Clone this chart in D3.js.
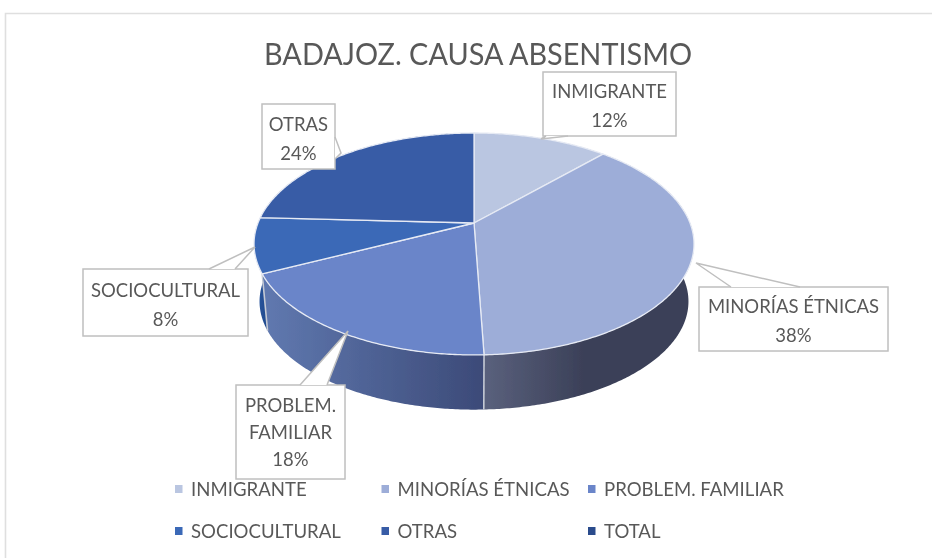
<!DOCTYPE html>
<html><head><meta charset="utf-8">
<script src="https://cdn.jsdelivr.net/npm/d3@7"></script>
<style>html,body{margin:0;padding:0;background:#fff}svg{display:block}text{font-family:Lato,"Open Sans",sans-serif;fill:#595959}</style>
</head><body><div id="c"></div>
<script>
const title = "BADAJOZ. CAUSA ABSENTISMO";
const categories = ["INMIGRANTE","MINORÍAS ÉTNICAS","PROBLEM. FAMILIAR","SOCIOCULTURAL","OTRAS"];
const values = [11.9,37.5,18.4,8.0,24.2];
const calloutNames = ["INMIGRANTE","MINORÍAS ÉTNICAS","PROBLEM.|FAMILIAR","SOCIOCULTURAL","OTRAS"];
const topColors = ["#bac6e1","#9dadd8","#6a85c9","#3a69b7","#375ca6"];
const sideLeft = ["#bac6e1","#5a617d","#6079b0","#2f5aa5","#2f5aa5"];
const sideRight = ["#9aa6c4","#3b4058","#3c4a78","#1f4a8c","#1f4a8c"];
const legendNames = ["INMIGRANTE","MINORÍAS ÉTNICAS","PROBLEM. FAMILIAR","SOCIOCULTURAL","OTRAS","TOTAL"];
const legendColors = ["#bac6e1","#9dadd8","#6a85c9","#3a69b7","#375ca6","#2b4c8c"];
// callout boxes: [x,y,w,h], pointer tip and pointer base
const boxes = [[543,72,133,64],[699,287,189,64],[236,385,109,94],[83,269,165,67],[262,104,73,65]];
const tips = [[[541,139],[546,136],[568,136]],[[696,263],[731,287],[800,287]],[[348,331],[300,385],[327,385]],[[255,247],[209,269],[235,269]],[[341,153],[335,137],[335,159]]];

const W=932,H=558;
const svg=d3.select("#c").append("svg").attr("width",W).attr("height",H);
const defs=svg.append("defs");
defs.append("filter").attr("id","soft").attr("x",0).attr("y",0).attr("width",1).attr("height",1)
  .attr("filterUnits","objectBoundingBox").append("feGaussianBlur").attr("stdDeviation",0.45);
const root=svg.append("g").attr("filter","url(#soft)");
root.append("rect").attr("width",W).attr("height",H).attr("fill","#fff");

// narrow text, as in the reference: taller glyphs squeezed horizontally
function label(sel,size,squeeze){
  const n=sel.attr("font-size",size).node();
  sel.attr("textLength",n.getComputedTextLength()*squeeze).attr("lengthAdjust","spacingAndGlyphs");
  return sel;
}
root.append("path").attr("d",`M${W},13.5H5.5V${H}`).attr("fill","none").attr("stroke","#dfdfdf").attr("stroke-width",1.6);
root.append("text").attr("x",478).attr("y",65).attr("text-anchor","middle").attr("font-size",31).attr("textLength",428).attr("lengthAdjust","spacingAndGlyphs").text(title);

const cx=474,cy=223,a=216,b=107,k=0.189,depth=58,bottomScale=0.975;
const proj=(t,s=1,dy=0)=>{const w=1+k*Math.cos(t);return [cx+s*a*Math.sin(t)/w, cy+dy-s*b*Math.cos(t)/w];};
const arcs=d3.pie().sort(null)(values);
const samples=d=>{const n=Math.max(2,Math.ceil((d.endAngle-d.startAngle)/0.01));return d3.range(n+1).map(i=>d.startAngle+(d.endAngle-d.startAngle)*i/n);};
const line=d3.line();

// sides
arcs.forEach((d,i)=>{
  const ts=samples(d);
  const top=ts.map(t=>proj(t));
  const bot=ts.map(t=>proj(t,bottomScale,depth)).reverse();
  const xs=top.concat(bot).map(p=>p[0]);
  const id="g"+i;
  const lo=d3.min(xs),hi=d3.max(xs);
  const g=defs.append("linearGradient").attr("id",id).attr("gradientUnits","userSpaceOnUse").attr("x1",lo).attr("x2",i===1?lo+100:hi).attr("y1",0).attr("y2",0);
  g.append("stop").attr("offset",0).attr("stop-color",sideLeft[i]);
  g.append("stop").attr("offset",1).attr("stop-color",sideRight[i]);
  root.append("path").attr("d",line(top.concat(bot))+"Z").attr("fill",`url(#${id})`);
});
// light seams on the wall
[arcs[1].endAngle,arcs[2].endAngle].forEach(t=>{
  root.append("path").attr("d",line([proj(t),proj(t,bottomScale,depth)])).attr("stroke","#c4c9d4").attr("stroke-width",1.6).attr("fill","none");
});
// top faces
arcs.forEach((d,i)=>{
  const pts=[[cx,cy]].concat(samples(d).map(t=>proj(t)));
  root.append("path").attr("d",line(pts)+"Z").attr("fill",topColors[i]).attr("stroke","#e6eaf4").attr("stroke-width",1.3).attr("stroke-linejoin","round");
});

// callouts
arcs.forEach((d,i)=>{
  const [x,y,w,h]=boxes[i];
  const tp=tips[i];
  const g=root.append("g");
  g.append("rect").attr("x",x).attr("y",y).attr("width",w).attr("height",h).attr("fill","#fff").attr("stroke","#bfbfbf").attr("stroke-width",1.5);
  g.append("polygon").attr("points",tp.join(" ")).attr("fill","#fff");
  g.append("path").attr("d",line([tp[1],tp[0],tp[2]])).attr("fill","none").attr("stroke","#bfbfbf").attr("stroke-width",1.5);
  const lines=calloutNames[i].split("|").concat(Math.round(d.data)+"%");
  const lh=lines.length===3?27:29;
  const y0=y+h/2-(lines.length-1)*lh/2+(lines.length===3?7:8.5);
  lines.forEach((t,j)=>label(g.append("text").attr("x",x+w/2).attr("y",y0+j*lh).attr("text-anchor","middle").text(t),20,0.925));
});

// legend
const lx=d3.scalePoint().domain([0,1,2]).range([175,588]);
const ly=d3.scalePoint().domain([0,1]).range([489,531]);
legendNames.forEach((n,i)=>{
  const x=lx(i%3),y=ly(Math.floor(i/3));
  root.append("rect").attr("x",x).attr("y",y-4).attr("width",7.5).attr("height",8).attr("fill",legendColors[i]);
  label(root.append("text").attr("x",x+16).attr("y",y+7).text(n),20,0.93);
});
</script></body></html>
